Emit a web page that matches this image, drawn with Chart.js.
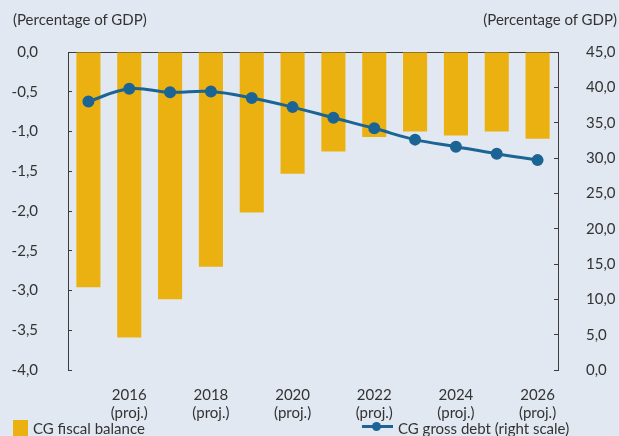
<!DOCTYPE html>
<html><head><meta charset="utf-8">
<script src="https://cdn.jsdelivr.net/npm/chart.js@4.4.1/dist/chart.umd.min.js"></script>
<style>
html,body{margin:0;padding:0;background:#e1e8f1;}
#wrap{position:relative;width:619px;height:436px;overflow:hidden;font-family:Lato,"Open Sans",sans-serif;color:#333;}
canvas{position:absolute;left:0;top:0;}
.t{position:absolute;font-size:15px;white-space:nowrap;line-height:1;}
</style></head>
<body><div id="wrap">
<canvas id="c" width="619" height="436"></canvas>
<div class="t" style="left:13px;top:12px;">(Percentage of GDP)</div>
<div class="t" style="right:2px;top:12px;">(Percentage of GDP)</div>
<div style="position:absolute;left:13px;top:420px;width:15px;height:16px;background:#ebb111;"></div>
<div class="t" style="left:33px;top:421px;">CG fiscal balance</div>
<div style="position:absolute;left:362px;top:425px;width:31px;height:3px;background:#1b6494;"></div>
<div style="position:absolute;left:372px;top:422px;width:9px;height:9px;border-radius:50%;background:#1b6494;"></div>
<div class="t" style="left:398px;top:421px;">CG gross debt (right scale)</div>
</div>
<script>
const years = ['2015','2016','2017','2018','2019','2020','2021','2022','2023','2024','2025','2026'];
const xTickLabels = [[''],['2016','(proj.)'],[''],['2018','(proj.)'],[''],['2020','(proj.)'],[''],['2022','(proj.)'],[''],['2024','(proj.)'],[''],['2026','(proj.)']];
const fiscalBalance = [-2.96,-3.59,-3.11,-2.70,-2.02,-1.53,-1.25,-1.07,-1.00,-1.05,-1.00,-1.09];
const grossDebt = [38.0,39.8,39.3,39.4,38.5,37.2,35.7,34.2,32.6,31.6,30.6,29.7];
const leftTicks = {min:-4, max:0, step:0.5};
const rightTicks = {min:0, max:45, step:5};

const fmt = v => v.toFixed(1).replace('.', ',');
const font = {family:'Lato', size:15};
const axisColor = '#3c3c3c';

new Chart(document.getElementById('c'), {
  data: {
    labels: years,
    datasets: [
      {type:'line', label:'CG gross debt (right scale)', data:grossDebt, yAxisID:'y2',
       borderColor:'#1b6494', backgroundColor:'#1b6494', borderWidth:3, tension:0.4,
       pointRadius:4.5, pointHoverRadius:4.5, order:0},
      {type:'bar', label:'CG fiscal balance', data:fiscalBalance, yAxisID:'y',
       backgroundColor:'#ebb111', borderWidth:0, categoryPercentage:1, barPercentage:0.59, order:1}
    ]
  },
  options: {
    responsive:false, animation:false,
    layout:{padding:{top:52,left:0,right:0,bottom:0}},
    plugins:{legend:{display:false}, tooltip:{enabled:false}},
    scales:{
      x:{type:'category', offset:true,
         grid:{display:false}, border:{display:false},
         ticks:{autoSkip:false, maxRotation:0, minRotation:0, padding:8, color:'#333', font:font,
                callback:(v,i)=>xTickLabels[i]},
         afterFit:s=>{s.height=66;}},
      y:{position:'left', min:leftTicks.min, max:leftTicks.max,
         grid:{drawOnChartArea:true, tickLength:-4, tickColor:axisColor, lineWidth:1,
               color:ctx=>(ctx.tick && ctx.tick.value===0)?axisColor:'rgba(0,0,0,0)'},
         border:{display:true, color:axisColor, width:1},
         ticks:{stepSize:leftTicks.step, padding:34, color:'#333', font:font, callback:v=>fmt(v)},
         afterFit:s=>{s.width=68;}},
      y2:{position:'right', min:rightTicks.min, max:rightTicks.max,
         grid:{drawOnChartArea:false, tickLength:-4, tickColor:axisColor, color:axisColor},
         border:{display:true, color:axisColor, width:1},
         ticks:{stepSize:rightTicks.step, padding:32, color:'#333', font:font, callback:v=>fmt(v)},
         afterFit:s=>{s.width=61;}}
    }
  }
});
</script>
</body></html>
